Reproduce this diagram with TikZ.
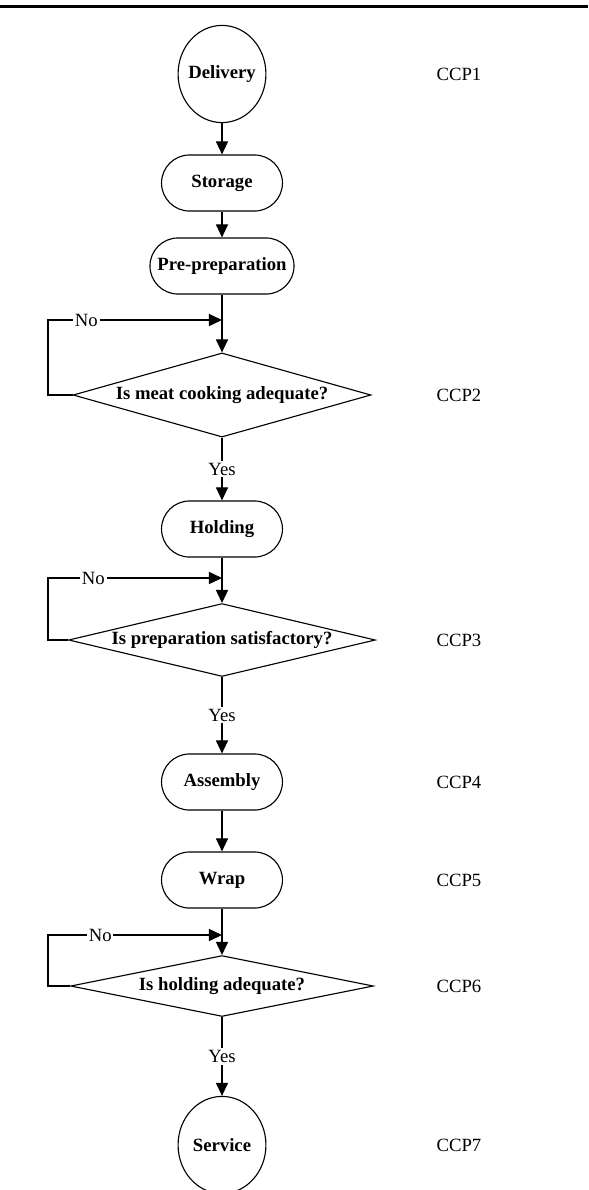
\documentclass[tikz,border=0pt]{standalone}
\usepackage{fontspec}
\setmainfont{Liberation Serif}
\usetikzlibrary{shapes.geometric,arrows.meta}

\tikzset{
  term/.style={draw,ellipse,line width=0.6pt,inner sep=0pt,minimum width=47pt,minimum height=52pt,font=\bfseries},
  proc/.style={draw,rectangle,rounded corners=15pt,line width=0.6pt,minimum width=64.7pt,minimum height=30pt,inner xsep=4pt,font=\bfseries},
  ask/.style={draw,diamond,aspect=5,inner sep=0pt,line width=0.6pt,font=\bfseries},
  flow/.style={-{Triangle[length=7pt,width=6.5pt]},line width=0.6pt},
  lbl/.style={fill=white,inner sep=1pt}
}

\begin{document}
\begin{tikzpicture}[x=0.535pt,y=-0.535pt]
\useasboundingbox (0,0) rectangle (588,1190);
\draw[line width=1.6pt] (0,6) -- (588,6);
% steps on the main line
\node[term] (delivery) at (222,74) {\makebox[0pt]{Delivery}};
\node[proc] (storage) at (222,183) {Storage};
\node[proc] (prep) at (222,266) {Pre-preparation};
\node[ask,minimum width=153.5pt,minimum height=45pt] (cook) at (222,395) {Is meat cooking adequate?};
\node[proc] (holding) at (222,529) {Holding};
\node[ask,minimum width=156pt,minimum height=39pt] (prepok) at (222,640) {Is preparation satisfactory?};
\node[proc] (assembly) at (222,782) {Assembly};
\node[proc] (wrap) at (222,880) {Wrap};
\node[ask,minimum width=162pt,minimum height=32.6pt] (hold) at (222,986) {Is holding adequate?};
\node[term] (service) at (222,1145) {\makebox[0pt]{Service}};
% control points
\foreach \n/\y in {1/74,2/395,3/640,4/782,5/880,6/986,7/1145}
  \node (ccp\n) at (459,\y) {CCP\n};
% loop rail and joins
\coordinate (rail) at (48,0);
\coordinate (j1) at (222,320);
\coordinate (j2) at (222,578);
\coordinate (j3) at (222,935);
\draw[flow] (delivery) -- (storage);
\draw[flow] (storage) -- (prep);
\draw[flow] (prep) -- (cook);
\draw[flow] (cook.west) -- (cook.west -| rail) |- (j1) node[lbl,pos=0.61] {No};
\draw[flow] (cook) -- node[lbl] {Yes} (holding);
\draw[flow] (holding) -- (prepok);
\draw[flow] (prepok.west) -- (prepok.west -| rail) |- (j2) node[lbl,pos=0.63] {No};
\draw[flow] (prepok) -- node[lbl] {Yes} (assembly);
\draw[flow] (assembly) -- (wrap);
\draw[flow] (wrap) -- (hold);
\draw[flow] (hold.west) -- (hold.west -| rail) |- (j3) node[lbl,pos=0.65] {No};
\draw[flow] (hold) -- node[lbl] {Yes} (service);
\end{tikzpicture}
\end{document}
